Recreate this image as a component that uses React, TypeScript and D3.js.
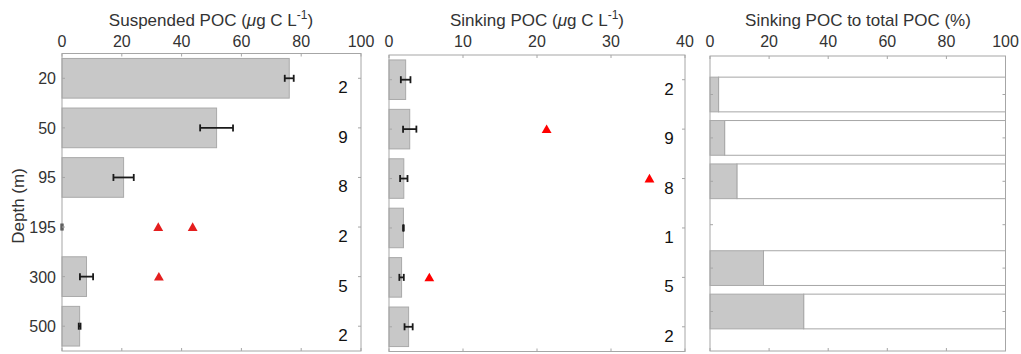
import React from "react";
import * as d3 from "d3";

const depths = ["20", "50", "95", "195", "300", "500"];
const suspendedPOC = [76.0, 51.7, 20.6, 0, 8.2, 5.9];
const suspendedErr = [1.5, 5.5, 3.4, 0.2, 2.2, 0.3];
const suspendedTriDepth = ["195", "195", "300"];
const suspendedTriValue = [32.2, 43.7, 32.4];
const suspendedN = ["2", "9", "8", "2", "5", "2"];

const sinkingPOC = [2.25, 2.8, 2.0, 1.95, 1.7, 2.65];
const sinkingErr = [0.65, 0.9, 0.5, 0.05, 0.3, 0.55];
const sinkingTriDepth = ["50", "95", "300"];
const sinkingTriValue = [21.3, 35.2, 5.45];
const sinkingN = ["2", "9", "8", "1", "5", "2"];

const sinkingPct: (number | null)[] = [2.9, 4.95, 9.1, null, 18.1, 31.7];

const xTicks1 = [0, 20, 40, 60, 80, 100];
const xTicks2 = [0, 10, 20, 30, 40];
const xTicks3 = [0, 20, 40, 60, 80, 100];

const FONT = "'Liberation Sans', Arial, Helvetica, sans-serif";
const AXIS = "#a6a6a6";
const TXT = "#333333";
const BAR = "#c8c8c8";
const BAR_EDGE = "#a9a9a9";

type PanelProps = {
  x0: number;
  x1: number;
  top: number;
  bottom: number;
  xMax: number;
  ticks: number[];
  title: React.ReactNode;
  titleX: number;
};

function Frame({ x, y, ticks, top, bottom, catTicks }: any) {
  const [l, r] = x.range();
  return (
    <g>
      <rect x={l} y={top} width={r - l} height={bottom - top} fill="none" stroke={AXIS} strokeWidth={1} />
      {ticks.map((t: number) => (
        <g key={t}>
          <line x1={x(t)} x2={x(t)} y1={top} y2={top + 3} stroke={AXIS} />
          <line x1={x(t)} x2={x(t)} y1={bottom} y2={bottom - 3} stroke={AXIS} />
        </g>
      ))}
      {catTicks.map((c: number, i: number) => (
        <g key={i}>
          <line x1={l} x2={l + 3} y1={c} y2={c} stroke={AXIS} />
          <line x1={r} x2={r - 3} y1={c} y2={c} stroke={AXIS} />
        </g>
      ))}
      {ticks.map((t: number) => (
        <text key={"l" + t} x={x(t)} y={47} textAnchor="middle" fontSize={16} fill={TXT} fontFamily={FONT}>
          {t}
        </text>
      ))}
    </g>
  );
}

function ErrBar({ x, y, v, e }: { x: any; y: number; v: number; e: number }) {
  const a = x(v - e);
  const b = x(v + e);
  return (
    <g stroke="#1a1a1a" strokeWidth={1.8}>
      <line x1={a} x2={b} y1={y} y2={y} />
      <line x1={a} x2={a} y1={y - 3.5} y2={y + 3.5} />
      <line x1={b} x2={b} y1={y - 3.5} y2={y + 3.5} />
    </g>
  );
}

function Tri({ cx, cy, color }: { cx: number; cy: number; color: string }) {
  const sym = d3.symbol(d3.symbolTriangle, 42)();
  return <path d={sym as string} transform={`translate(${cx},${cy + 1})`} fill={color} />;
}

export default function App() {
  // Panel 1
  const x1 = d3.scaleLinear().domain([0, 100]).range([62, 361]);
  const y1 = d3.scaleLinear().domain([0.5, 6.5]).range([53.5, 351]);
  // Panel 2
  const x2 = d3.scaleLinear().domain([0, 40]).range([389, 685]);
  const y2 = d3.scaleLinear().domain([0.5, 6.5]).range([55, 351.5]);
  // Panel 3
  const x3 = d3.scaleLinear().domain([0, 100]).range([710, 1005.5]);
  const y3 = d3.scaleLinear().domain([1, 6]).range([94.5, 311.5]);
  const step3 = y3(2) - y3(1);

  const idx = (d: string) => depths.indexOf(d) + 1;
  const bh1 = (y1(2) - y1(1)) * 0.8;
  const bh2 = (y2(2) - y2(1)) * 0.8;
  const bh3 = step3 * 0.8;

  return (
    <svg width={1021} height={354} style={{ position: "absolute", left: 0, top: 0 }} fontFamily={FONT}>
      <rect width={1021} height={354} fill="#fff" />

      {/* Panel 1 */}
      <text x={211} y={26} textAnchor="middle" fontSize={17} fill={TXT}>
        Suspended POC (<tspan fontStyle="italic">μ</tspan>g C L<tspan dy={-7} fontSize={12}>-1</tspan>
        <tspan dy={7}>)</tspan>
      </text>
      {suspendedPOC.map((v, i) => (
        <rect key={i} x={x1(0)} y={y1(i + 1) - bh1 / 2} width={x1(v) - x1(0)} height={bh1}
          fill={BAR} stroke={v > 0 ? BAR_EDGE : "none"} strokeWidth={1} />
      ))}
      {suspendedPOC.map((v, i) => (
        <ErrBar key={i} x={x1} y={y1(i + 1)} v={v} e={suspendedErr[i]} />
      ))}
      {suspendedTriValue.map((v, i) => (
        <Tri key={i} cx={x1(v)} cy={y1(idx(suspendedTriDepth[i]))} color="#e41e1e" />
      ))}
      <Frame x={x1} ticks={xTicks1} top={53.5} bottom={351} catTicks={depths.map((_, i) => y1(i + 1))} />
      {depths.map((d, i) => (
        <text key={d} x={56} y={y1(i + 1) + 6} textAnchor="end" fontSize={16} fill={TXT}>{d}</text>
      ))}
      {suspendedN.map((n, i) => (
        <text key={i} x={343} y={y1(i + 1) + 15} textAnchor="middle" fontSize={17} fill="#111">{n}</text>
      ))}
      <text transform="translate(24,206) rotate(-90)" textAnchor="middle" fontSize={17} fill={TXT}>Depth (m)</text>

      {/* Panel 2 */}
      <text x={537} y={26} textAnchor="middle" fontSize={17} fill={TXT}>
        Sinking POC (<tspan fontStyle="italic">μ</tspan>g C L<tspan dy={-7} fontSize={12}>-1</tspan>
        <tspan dy={7}>)</tspan>
      </text>
      {sinkingPOC.map((v, i) => (
        <rect key={i} x={x2(0)} y={y2(i + 1) - bh2 / 2} width={x2(v) - x2(0)} height={bh2}
          fill={BAR} stroke={BAR_EDGE} strokeWidth={1} />
      ))}
      {sinkingPOC.map((v, i) => (
        <ErrBar key={i} x={x2} y={y2(i + 1)} v={v} e={sinkingErr[i]} />
      ))}
      {sinkingTriValue.map((v, i) => (
        <Tri key={i} cx={x2(v)} cy={y2(idx(sinkingTriDepth[i]))} color="#ff0000" />
      ))}
      <Frame x={x2} ticks={xTicks2} top={55} bottom={351.5} catTicks={depths.map((_, i) => y2(i + 1))} />
      {sinkingN.map((n, i) => (
        <text key={i} x={669} y={y2(i + 1) + 15} textAnchor="middle" fontSize={17} fill="#111">{n}</text>
      ))}

      {/* Panel 3 */}
      <text x={858} y={26} textAnchor="middle" fontSize={17} fill={TXT}>
        Sinking POC to total POC (%)
      </text>
      {sinkingPct.map((v, i) =>
        v === null ? null : (
          <g key={i}>
            <rect x={x3(v)} y={y3(i + 1) - bh3 / 2} width={x3(100) - x3(v)} height={bh3}
              fill="#fff" stroke={AXIS} strokeWidth={1} />
            <rect x={x3(0)} y={y3(i + 1) - bh3 / 2} width={x3(v) - x3(0)} height={bh3}
              fill={BAR} stroke={BAR_EDGE} strokeWidth={1} />
          </g>
        )
      )}
      <Frame x={x3} ticks={xTicks3} top={56} bottom={351} catTicks={depths.map((_, i) => y3(i + 1))} />
    </svg>
  );
}
